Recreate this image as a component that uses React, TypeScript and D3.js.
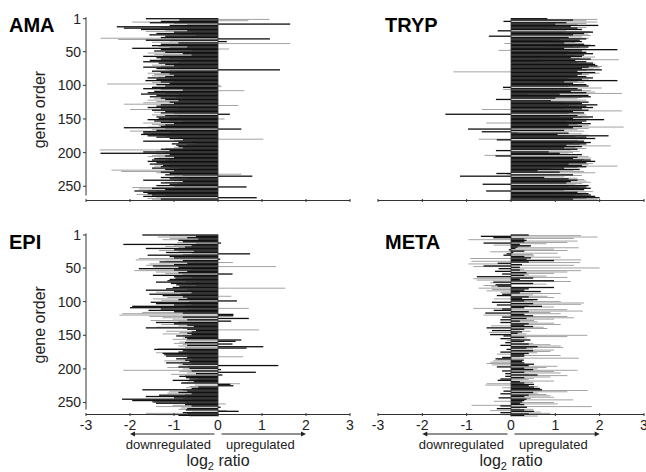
import React from "react";
import * as d3 from "d3";

// log2 expression ratios, one value per gene (gene order 1..270)
const amaRatios = [
  -1.64, 1.17, -0.88, 0.69, -1.3, -1.95, -1.55, -1.0, 1.64, -0.7,
  -1.1, -0.8, -2.3, -1.3, -2.14, -0.9, -1.75, -1.2, -0.7, -1.64,
  -1.0, -0.6, -1.4, -0.9, -1.56, -0.5, -1.2, -0.8, -1.3, -2.67,
  1.18, -2.27, -1.64, -1.1, 0.2, -1.5, -0.9, 1.64, -1.3, -0.8,
  -1.5, -1.35, -0.7, -1.1, -1.95, 0.25, -1.3, -0.6, -1.45, -0.9,
  -1.2, -1.6, -0.8, -1.45, -0.6, -1.25, -1.7, -0.9, -1.4, -1.1,
  -1.3, -0.8, -1.55, -1.1, -1.7, -0.9, -1.35, -1.0, -1.2, -1.5,
  -1.0, -1.3, -1.7, -0.9, -1.4, -1.2, 1.41, -1.1, -1.5, -0.95,
  -1.3, -1.6, -1.1, -1.45, -1.0, -1.5, -1.2, -1.35, -1.6, -1.1,
  -1.4, -1.2, -1.65, -1.0, -1.3, -1.5, -1.1, -2.52, -1.4, 0.05,
  -1.2, 0.08, -1.5, -1.0, -1.7, -1.3, -0.8, 0.6, -1.45, -1.1,
  -1.6, -1.2, -1.75, -0.9, -1.4, -1.1, -1.55, -0.95, -1.3, -1.45,
  -1.2, -1.6, -0.9, -1.4, -1.1, -1.7, -1.0, -2.14, -1.3, 0.46,
  -1.4, -1.1, -1.6, -0.9, -1.3, -2.0, -1.5, -1.0, -1.2, -1.45,
  -1.3, -1.0, 0.27, -1.5, -1.2, -0.9, -1.4, -1.1, -1.35, 0.15,
  -1.6, -1.1, -1.45, -0.8, -1.3, -1.7, -1.0, -1.5, -1.2, -1.35,
  -1.3, -1.6, -2.14, -1.2, 0.53, -1.5, -1.4, -2.0, -1.7, -1.1,
  -1.7, -1.5, -1.75, -1.3, -1.6, -1.2, -1.4, -0.9, -1.1, 1.03,
  -0.8, -1.0, -1.7, -0.6, -0.9, -0.5, -1.05, -0.7, -0.95, -0.6,
  -0.9, -1.0, -0.8, -1.2, -1.3, -2.69, -1.1, -1.4, -1.7, -1.2,
  -2.67, -1.4, -1.1, -1.5, -1.2, -1.6, -1.0, -1.35, -1.45, -1.15,
  -1.5, -1.2, -1.6, -1.0, -1.4, -1.3, -1.55, -1.1, -1.25, -1.45,
  -1.3, -1.1, -1.5, -0.9, -1.2, -2.42, -1.0, -2.2, -1.3, -1.4,
  -1.1, 0.53, -1.2, -0.8, 0.78, -1.0, -1.3, -0.7, -1.1, -0.9,
  -1.7, -1.0, -0.8, -1.2, -1.3, -0.9, -1.1, -0.7, -1.4, -1.0,
  0.65, -1.95, -1.5, -1.8, -1.2, -1.6, -1.9, -1.4, -1.7, -1.3,
  -1.6, -1.85, -1.5, -1.2, -1.7, -1.4, 0.88, -1.6, -1.3, -1.5,
];

const trypRatios = [
  0.82, 1.95, 1.4, 1.7, -0.17, 1.95, 1.25, 1.7, 1.0, 1.5,
  1.97, 0.95, 1.35, 1.7, 1.5, 0.9, 1.6, 1.25, -0.3, 1.8,
  1.85, 1.2, 1.65, 1.75, 1.4, 1.8, -0.5, 1.6, 1.3, 1.75,
  1.7, 1.1, 1.55, 0.9, 1.6, 1.45, 1.2, -0.15, 1.65, 1.8,
  1.9, 1.4, 1.75, 1.55, 1.2, 1.7, 2.4, -0.28, 1.6, 1.3,
  1.7, 1.5, 1.85, 1.25, 1.65, 1.45, 1.6, 1.9, 1.35, 1.55,
  1.8, 2.43, 1.45, 0.65, 1.7, 1.5, 1.85, 1.35, 1.9, 1.6,
  1.95, 2.05, 1.75, 2.0, 1.6, 1.85, 2.05, 1.7, 1.5, -1.3,
  1.9, 2.0, 1.6, 1.75, 1.5, 1.2, 1.7, 1.45, 1.85, 1.3,
  1.6, 1.75, 2.4, 1.5, 1.2, 1.65, 1.4, 0.45, 1.7, 1.55,
  1.75, 1.3, -0.18, 2.05, 1.5, -0.18, 1.6, 1.8, 1.35, 1.9,
  1.7, 2.5, 1.1, 0.4, 1.75, 1.4, 1.8, 1.6, 1.0, 1.5,
  -0.34, 1.7, 0.9, 1.55, 1.75, 1.2, 1.6, 1.45, 1.95, 1.3,
  1.7, 1.5, 1.85, 1.2, 1.6, -0.66, 1.75, 2.5, 1.4, 1.55,
  1.65, 1.3, -1.48, 1.7, 1.5, 1.1, 1.85, 1.6, 1.4, 1.75,
  2.1, 1.45, 1.7, 1.25, 1.6, -0.56, 1.8, 1.5, 1.3, 1.75,
  1.6, 2.54, 1.4, 1.75, -0.97, 1.5, 1.2, 1.65, -0.66, 0.15,
  1.3, 1.6, 1.05, 1.75, 2.2, 1.45, 1.7, 1.2, 1.9, -0.73,
  -0.32, 1.5, 1.65, 1.3, 1.8, 1.4, 1.7, 1.55, 1.25, 2.25,
  1.6, 1.45, 1.2, 1.7, 1.5, 1.35, -0.34, 1.55, 0.85, 1.4,
  1.1, 1.3, 1.6, -0.6, -0.35, 1.75, 1.5, 1.8, 1.4, 1.65,
  1.8, 1.6, 1.9, 1.5, 1.7, 1.85, 1.3, 1.75, 1.6, 2.4,
  1.7, 1.5, 1.2, 0.9, 1.55, 1.4, 0.6, 1.65, 1.1, 1.9,
  -0.33, -0.1, 1.4, 1.6, -1.15, 1.2, 0.75, 1.5, 1.3, 1.65,
  1.5, 1.7, 1.35, 1.8, 1.25, 1.6, -0.64, 1.45, 1.75, 1.3,
  1.7, 1.55, 1.8, 1.4, 1.65, 1.2, -0.56, 1.85, 1.5, 1.7,
  1.75, 1.6, 1.8, 1.45, 1.9, 1.55, 2.0, 1.7, 1.4, 1.95,
];

const epiRatios = [
  -1.72, -1.1, -0.5, -1.37, -0.7, -1.1, -0.45, -1.26, -0.9, -0.6,
  -0.8, -0.92, 0.07, -0.5, -2.15, -1.0, -0.6, -1.2, -0.75, -0.9,
  -1.64, -0.7, -1.0, -1.34, -0.55, -0.9, -1.18, -0.6, 0.73, -0.8,
  -1.6, -0.7, -1.1, -0.55, -1.0, -1.8, 0.05, -1.87, -0.8, -1.2,
  -1.33, 0.34, -0.7, -1.56, -1.0, -1.64, -1.48, 1.32, -0.9, -1.45,
  -1.8, -0.6, -1.0, -1.9, -0.7, -1.41, -0.9, -1.2, 0.33, -0.8,
  -1.48, -0.7, -1.0, -0.6, -0.97, -0.8, -1.1, -0.5, -1.15, -0.75,
  -1.41, -0.6, -1.07, -0.7, -0.95, -0.5, -0.88, -0.8, -1.03, 1.53,
  -1.18, -0.7, -1.64, -0.9, -1.0, -1.41, -0.6, -0.85, -1.56, -0.75,
  -1.26, 0.3, -0.8, -1.15, -0.7, -1.48, -0.9, -1.29, 0.43, -0.65,
  -1.53, -0.8, -1.41, -0.6, -1.0, -0.75, -1.95, -0.9, -2.0, 0.7,
  -1.3, -0.7, -1.58, -0.9, -1.0, -1.72, -0.8, -2.18, 0.35, -2.24,
  0.35, -1.56, -0.8, -1.26, 0.7, -1.03, -0.7, -1.53, 0.3, -0.9,
  -1.41, -0.6, -1.0, -1.29, -0.7, -0.9, -0.55, -1.4, -1.64, -0.8,
  -0.7, 0.93, -0.5, -1.18, -0.6, -0.88, -0.7, -1.26, -0.6, -0.8,
  -0.95, -0.65, -0.75, -0.8, -0.7, -1.03, 0.53, -0.72, 0.4, -0.88,
  -0.75, -1.0, 0.33, -0.8, -0.7, -0.9, 1.03, -0.75, 0.65, -1.37,
  -1.45, -0.6, -0.8, -0.7, -0.9, -1.41, -1.26, -0.65, -1.22, -0.7,
  -1.18, 0.57, -0.7, -0.8, -0.95, -0.6, -0.75, -1.22, -0.65, -0.85,
  -1.18, -0.6, -0.8, -0.88, 1.37, -0.7, -0.9, -1.15, -0.65, -0.8,
  0.07, -2.15, -0.6, -0.88, 0.86, -0.7, -0.5, -1.07, 0.1, -0.75,
  -0.88, -0.6, -0.73, -0.45, -0.65, -0.5, -1.03, -0.7, -0.55, -0.8,
  -0.84, 0.5, 0.28, -0.53, 0.35, -0.65, -0.45, -0.73, -0.6, -0.5,
  -1.72, -0.8, -0.7, -1.11, -0.9, -1.15, -0.6, -0.75, -1.34, -0.8,
  -1.64, -0.7, -1.0, -0.8, -2.18, -0.6, -1.95, -0.9, -1.49, -0.75,
  -1.41, 0.18, -0.75, -1.03, -0.6, -1.41, 0.06, -0.84, -0.7, -0.9,
  -0.73, 0.2, 0.47, -0.6, -0.8, -1.64, -0.7, -1.41, -0.9, -0.65,
];

const metaRatios = [
  0.4, 1.58, -0.68, 1.95, -0.4, 1.42, 0.3, -0.96, 0.35, 1.5,
  0.3, 1.27, -0.62, 0.8, 0.2, -0.39, 0.45, 0.42, 0.15, 1.53,
  0.1, 0.97, -0.05, 1.27, 0.3, -0.47, 0.05, 1.05, -0.1, 0.5,
  -0.17, 0.52, 0.3, 1.12, 0.45, -0.92, 0.35, 1.58, 0.97, -0.89,
  0.4, 1.56, -0.3, -0.96, 0.25, 1.42, -0.62, -0.85, 0.2, 2.0,
  -0.28, 0.3, 0.2, 1.58, -0.36, 1.27, 0.35, 0.97, -0.2, 0.4,
  0.3, 0.8, -0.77, 1.27, 0.5, -0.85, 0.2, -0.77, 0.97, 1.35,
  -0.4, -0.47, 0.5, 0.8, -0.35, -0.62, -0.3, -0.45, 0.97, -0.73,
  0.4, -0.43, 0.3, -0.55, 0.67, -0.24, 0.2, 1.12, -0.2, 0.5,
  -0.32, 0.82, 0.4, 0.97, 0.25, -0.39, 0.6, 0.5, 0.3, 1.12,
  -0.43, 1.65, 0.5, 1.58, -0.32, 0.4, 0.7, 0.97, 0.3, -0.85,
  -0.2, 1.27, -0.39, 1.62, 0.4, 0.89, -0.58, 1.12, 0.3, -0.62,
  0.5, 1.27, -0.2, 1.42, 0.35, 0.97, -0.24, 0.52, 0.2, 0.6,
  -0.24, 0.97, 0.4, 1.12, 0.3, -0.45, 0.5, 0.74, -0.55, 0.82,
  0.3, 0.2, -0.43, 0.44, 0.25, -0.5, 0.15, 0.35, -0.47, 1.72,
  -0.17, 1.27, 0.3, 0.36, -0.24, 0.2, 0.44, -0.1, 0.3, 0.25,
  -0.13, 0.5, 0.4, 0.89, -0.24, 1.12, 0.6, 1.18, 0.35, 0.5,
  -0.1, 0.97, 0.5, 0.89, -0.24, 0.59, 0.4, -0.32, 0.3, 1.12,
  0.3, 0.2, -0.2, 1.53, -0.35, -0.3, 0.29, -0.4, 0.25, -0.47,
  0.3, -0.55, 0.52, -0.43, 0.4, 1.05, -0.32, 0.8, 0.3, 0.6,
  0.5, 1.5, -0.2, 0.97, 0.3, 1.12, -0.13, 0.4, 0.6, 1.27,
  -0.13, 0.89, 0.3, 0.52, -0.24, 0.4, -0.3, 0.97, 0.2, 0.5,
  0.3, -0.55, 0.52, -0.58, 0.4, 0.6, 0.52, -0.2, 0.65, 0.7,
  0.7, 1.73, -0.17, 1.27, 0.5, 0.6, -0.24, 0.8, 0.4, 0.89,
  0.3, 0.97, -0.28, 0.45, 0.35, 1.4, 0.3, -0.39, 0.25, 0.97,
  0.2, 1.05, 0.3, -0.89, -0.24, 1.82, 0.36, 0.2, -0.32, 0.5,
  0.3, -0.47, 0.52, 0.67, -0.24, 0.89, 0.4, -0.17, 0.3, 0.6,
];

const stageNames = ["AMA", "TRYP", "EPI", "META"];
const geneTicks = [1, 50, 100, 150, 200, 250];
const ratioTicks = [-3, -2, -1, 0, 1, 2, 3];

const FONT = "'Liberation Sans', Arial, Helvetica, sans-serif";
const GENE_STEP = 0.673;
const DARK = "#111";
const LIGHT = "#999";
const AXIS = "#333";

type PanelProps = {
  name: string;
  values: number[];
  x0: number;
  x1: number;
  top: number;
  axisY: number;
  yAxis: boolean;
  xLabels: boolean;
  titleX: number;
};

function Panel({ name, values, x0, x1, top, axisY, yAxis, xLabels, titleX }: PanelProps) {
  const n = values.length;
  const x = d3.scaleLinear().domain([-3, 3]).range([x0, x1]);
  const y = d3.scaleLinear().domain([1, n]).range([top, top + (n - 1) * GENE_STEP]);
  const zero = x(0);
  const idx = d3.range(n);
  const light = idx.filter((i) => i % 2 === 1);
  const dark = idx.filter((i) => i % 2 === 0);

  const bar = (i: number, h: number, fill: string) => {
    const v = values[i];
    const xa = x(Math.min(0, v));
    const xb = x(Math.max(0, v));
    return (
      <rect
        key={`${fill}-${i}`}
        x={xa}
        y={y(i + 1) - h / 2}
        width={Math.max(0.3, xb - xa)}
        height={h}
        fill={fill}
      />
    );
  };

  const arrowY = axisY + 19.5;
  return (
    <g fontFamily={FONT}>
      <text x={titleX} y={top + 13.5} fontSize={20} fontWeight="bold" fill="#000">
        {name}
      </text>

      {light.map((i) => bar(i, 0.9, LIGHT))}
      {dark.map((i) => bar(i, 1.3, DARK))}
      <line x1={zero} x2={zero} y1={top - 0.5} y2={y(n) + 0.5} stroke="#333" strokeWidth={0.8} />

      {/* x axis */}
      <line x1={x0} x2={x1} y1={axisY} y2={axisY} stroke={AXIS} strokeWidth={1} />
      {ratioTicks.map((t) => (
        <line key={t} x1={x(t)} x2={x(t)} y1={axisY - 1.5} y2={axisY + 1.5} stroke={AXIS} strokeWidth={1} />
      ))}

      {yAxis && (
        <g>
          <line x1={x0} x2={x0} y1={top - 1.5} y2={axisY - 5} stroke={AXIS} strokeWidth={1} />
          {geneTicks.map((g) => (
            <g key={g}>
              <line x1={x0 - 3} x2={x0} y1={y(g)} y2={y(g)} stroke={AXIS} strokeWidth={1} />
              <text x={x0 - 5} y={y(g)} dy="0.35em" textAnchor="end" fontSize={14} fill="#222">
                {g}
              </text>
            </g>
          ))}
          <text
            transform={`translate(${x0 - 41},${(top + axisY) / 2}) rotate(-90)`}
            textAnchor="middle"
            fontSize={16}
            fill="#222"
          >
            gene order
          </text>
        </g>
      )}

      {xLabels && (
        <g>
          {ratioTicks.map((t) => (
            <text key={t} x={x(t)} y={axisY + 15.5} textAnchor="middle" fontSize={14} fill="#222">
              {t}
            </text>
          ))}
          <line x1={x(-0.08)} x2={x(-2) + 4} y1={arrowY} y2={arrowY} stroke="#222" strokeWidth={1} />
          <path d={`M${x(-2)},${arrowY} l5,-2.5 l0,5 z`} fill="#222" />
          <line x1={x(0.08)} x2={x(2) - 4} y1={arrowY} y2={arrowY} stroke="#222" strokeWidth={1} />
          <path d={`M${x(2)},${arrowY} l-5,-2.5 l0,5 z`} fill="#222" />
          <text x={zero - 7} y={axisY + 34} textAnchor="end" fontSize={13} fill="#222">
            downregulated
          </text>
          <text x={zero + 8} y={axisY + 34} textAnchor="start" fontSize={13} fill="#222">
            upregulated
          </text>
          <text x={zero} y={axisY + 51} textAnchor="middle" fontSize={16} fill="#222">
            log
            <tspan fontSize={11} dy={4}>2</tspan>
            <tspan dy={-4}> ratio</tspan>
          </text>
        </g>
      )}
    </g>
  );
}

export default function App() {
  return (
    <svg
      width={646}
      height={472}
      viewBox="0 0 646 472"
      style={{ position: "absolute", left: 0, top: 0, display: "block", background: "#fff" }}
    >
      <rect width={646} height={472} fill="#fff" />
      <Panel name={stageNames[0]} values={amaRatios} x0={86} x1={350} top={18.7} axisY={200.5} yAxis xLabels={false} titleX={9} />
      <Panel name={stageNames[1]} values={trypRatios} x0={378} x1={644} top={18.7} axisY={200.5} yAxis={false} xLabels={false} titleX={385} />
      <Panel name={stageNames[2]} values={epiRatios} x0={86} x1={350} top={235} axisY={414.5} yAxis xLabels titleX={9} />
      <Panel name={stageNames[3]} values={metaRatios} x0={378} x1={644} top={235} axisY={414.5} yAxis={false} xLabels titleX={385} />
    </svg>
  );
}
